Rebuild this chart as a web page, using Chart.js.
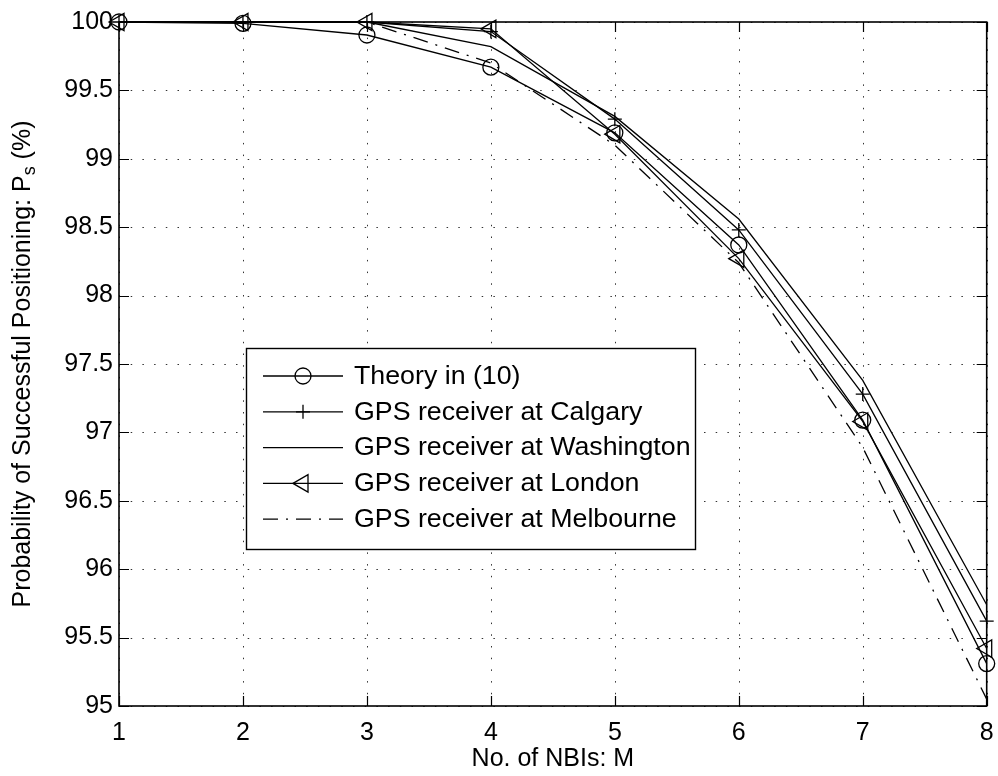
<!DOCTYPE html>
<html><head><meta charset="utf-8">
<script src="https://cdn.jsdelivr.net/npm/chart.js@4.4.1/dist/chart.umd.min.js"></script>
<style>html,body{margin:0;padding:0;background:#fff}canvas{display:block}</style>
</head><body>
<canvas id="c" width="998" height="776"></canvas>
<script>
// ---- data ----
const nbis = ['1','2','3','4','5','6','7','8'];
const theory     = [100, 99.99, 99.905, 99.67, 99.19, 98.37, 97.09, 95.31];
const calgary    = [100, 100, 100, 99.93, 99.29, 98.48, 97.28, 95.62];
const washington = [100, 100, 100, 99.82, 99.31, 98.56, 97.38, 95.74];
const london     = [100, 100, 100, 99.95, 99.18, 98.27, 97.08, 95.42];
const melbourne  = [100, 100, 100, 99.70, 99.10, 98.24, 96.89, 95.05];
const seriesNames = ['Theory in (10)', 'GPS receiver at Calgary', 'GPS receiver at Washington', 'GPS receiver at London', 'GPS receiver at Melbourne'];
const yTickValues = [95, 95.5, 96, 96.5, 97, 97.5, 98, 98.5, 99, 99.5, 100];
const yTickLabels = ['95', '95.5', '96', '96.5', '97', '97.5', '98', '98.5', '99', '99.5', '100'];
const xTitle = 'No. of NBIs: M';
const yTitleMain = 'Probability of Successful Positioning: P';
const yTitleSub = 's';
const yTitleTail = ' (%)';

// ---- styles ----
const FONT = '"Liberation Sans", Arial, Helvetica, sans-serif';
const FS = 25;
Chart.defaults.font.family = FONT;
const LW = 1.3;
const DASHDOT = [15, 8, 2, 8];

function base(label, data, extra) {
  return Object.assign({
    label, data, borderColor: '#000', borderWidth: LW, fill: false, tension: 0, clip: false,
    pointBackgroundColor: 'rgba(0,0,0,0)', pointBorderColor: '#000', pointBorderWidth: LW,
    pointRadius: 0, pointHoverRadius: 0
  }, extra || {});
}

const datasets = [
  base(seriesNames[0], theory, {pointStyle: 'circle', pointRadius: 8}),
  base(seriesNames[1], calgary, {pointStyle: 'cross', pointRadius: 7}),
  base(seriesNames[2], washington, {}),
  base(seriesNames[3], london, {pointStyle: 'triangle', pointRotation: -90, pointRadius: 10}),
  base(seriesNames[4], melbourne, {borderDash: DASHDOT})
];

function drawMarker(ctx, style, x, y, r) {
  ctx.beginPath();
  if (style === 'circle') {
    ctx.arc(x, y, r, 0, Math.PI * 2);
  } else if (style === 'cross') {
    ctx.moveTo(x - r, y); ctx.lineTo(x + r, y);
    ctx.moveTo(x, y - r); ctx.lineTo(x, y + r);
  } else if (style === 'triangle') {
    for (let k = 0; k < 3; k++) {
      const a = Math.PI + k * 2 * Math.PI / 3;
      const px = x + Math.cos(a) * r, py = y + Math.sin(a) * r;
      if (k === 0) ctx.moveTo(px, py); else ctx.lineTo(px, py);
    }
    ctx.closePath();
  }
  ctx.stroke();
}

const decor = {
  id: 'decor',
  beforeDatasetsDraw(chart) {
    const {ctx, chartArea: a, scales} = chart;
    ctx.save();
    ctx.strokeStyle = 'rgba(0,0,0,0.8)';
    ctx.lineWidth = 1;
    ctx.setLineDash([1.5, 10.2]);
    yTickValues.forEach(v => {
      const y = Math.round(scales.y.getPixelForValue(v)) + 0.5;
      ctx.beginPath(); ctx.moveTo(a.left, y); ctx.lineTo(a.right, y); ctx.stroke();
    });
    nbis.forEach((c, i) => {
      const x = Math.round(scales.x.getPixelForValue(i)) + 0.5;
      ctx.beginPath(); ctx.moveTo(x, a.bottom); ctx.lineTo(x, a.top); ctx.stroke();
    });
    ctx.restore();
  },
  afterDatasetsDraw(chart) {
    const {ctx, chartArea: a, scales} = chart;
    ctx.save();
    ctx.strokeStyle = '#000';
    ctx.lineWidth = 1.6;
    ctx.setLineDash([]);
    ctx.strokeRect(a.left, a.top, a.right - a.left, a.bottom - a.top);
    const TL = 10;
    ctx.lineWidth = 1.2;
    yTickValues.forEach(v => {
      const y = Math.round(scales.y.getPixelForValue(v)) + 0.5;
      ctx.beginPath();
      ctx.moveTo(a.left, y); ctx.lineTo(a.left + TL, y);
      ctx.moveTo(a.right, y); ctx.lineTo(a.right - TL, y);
      ctx.stroke();
    });
    nbis.forEach((c, i) => {
      const x = Math.round(scales.x.getPixelForValue(i)) + 0.5;
      ctx.beginPath();
      ctx.moveTo(x, a.bottom); ctx.lineTo(x, a.bottom - TL);
      ctx.moveTo(x, a.top); ctx.lineTo(x, a.top + TL);
      ctx.stroke();
    });
    ctx.restore();
  },
  afterDraw(chart) {
    const {ctx, chartArea: a} = chart;
    // legend
    ctx.save();
    const L = 246.5, T = 348.5, R = 695.5, B = 549.5;
    ctx.fillStyle = '#fff';
    ctx.fillRect(L, T, R - L, B - T);
    ctx.strokeStyle = '#000';
    ctx.lineWidth = 1.4;
    ctx.strokeRect(L, T, R - L, B - T);
    ctx.font = FS + 'px ' + FONT;
    ctx.textBaseline = 'middle';
    ctx.textAlign = 'left';
    ctx.fillStyle = '#000';
    chart.data.datasets.forEach((ds, i) => {
      const y = 376 + i * 35.8;
      ctx.lineWidth = LW;
      ctx.setLineDash(ds.borderDash || []);
      ctx.beginPath(); ctx.moveTo(263, y); ctx.lineTo(343, y); ctx.stroke();
      ctx.setLineDash([]);
      if (ds.pointRadius > 0) drawMarker(ctx, ds.pointStyle, 303, y, ds.pointRadius);
      ctx.save();
      ctx.translate(354, y + 1);
      ctx.scale(1.07, 1);
      ctx.fillText(ds.label, 0, 0);
      ctx.restore();
    });
    ctx.restore();
    // y title with subscript
    ctx.save();
    const cy = (a.top + a.bottom) / 2;
    ctx.translate(23, cy);
    ctx.rotate(-Math.PI / 2);
    ctx.fillStyle = '#000';
    ctx.textBaseline = 'middle';
    const fMain = FS + 'px ' + FONT, fSub = Math.round(FS * 0.7) + 'px ' + FONT;
    ctx.font = fMain; const w1 = ctx.measureText(yTitleMain).width;
    const w3 = ctx.measureText(yTitleTail).width;
    ctx.font = fSub; const w2 = ctx.measureText(yTitleSub).width;
    let x0 = -(w1 + w2 + w3) / 2;
    ctx.textAlign = 'left';
    ctx.font = fMain; ctx.fillText(yTitleMain, x0, 0);
    ctx.font = fSub; ctx.fillText(yTitleSub, x0 + w1, 7);
    ctx.font = fMain; ctx.fillText(yTitleTail, x0 + w1 + w2, 0);
    ctx.restore();
  }
};

new Chart(document.getElementById('c'), {
  type: 'line',
  data: {labels: nbis, datasets},
  options: {
    responsive: false, animation: false, devicePixelRatio: 1,
    layout: {padding: {left: 0, right: 11, top: 22, bottom: 0}},
    plugins: {legend: {display: false}, tooltip: {enabled: false}},
    elements: {line: {borderCapStyle: 'butt'}},
    scales: {
      x: {
        type: 'category', offset: false,
        grid: {display: false, drawTicks: false}, border: {display: false},
        ticks: {font: {size: FS}, color: '#000', padding: 12, maxRotation: 0, autoSkip: false},
        title: {display: true, text: xTitle, font: {size: FS}, color: '#000', padding: {top: 0, bottom: 2}},
        afterFit(s) { s.height = 70; s.paddingLeft = 0; s.paddingRight = 0; }
      },
      y: {
        type: 'linear', min: 95, max: 100,
        grid: {display: false, drawTicks: false}, border: {display: false},
        ticks: {font: {size: FS}, color: '#000', padding: 6,
          callback: (v) => { const i = yTickValues.indexOf(v); return i >= 0 ? yTickLabels[i] : ''; }},
        afterBuildTicks(s) { s.ticks = yTickValues.map(v => ({value: v})); },
        afterFit(s) { s.width = 119; s.paddingTop = 0; s.paddingBottom = 0; }
      }
    }
  },
  plugins: [decor]
});
</script>
</body></html>
